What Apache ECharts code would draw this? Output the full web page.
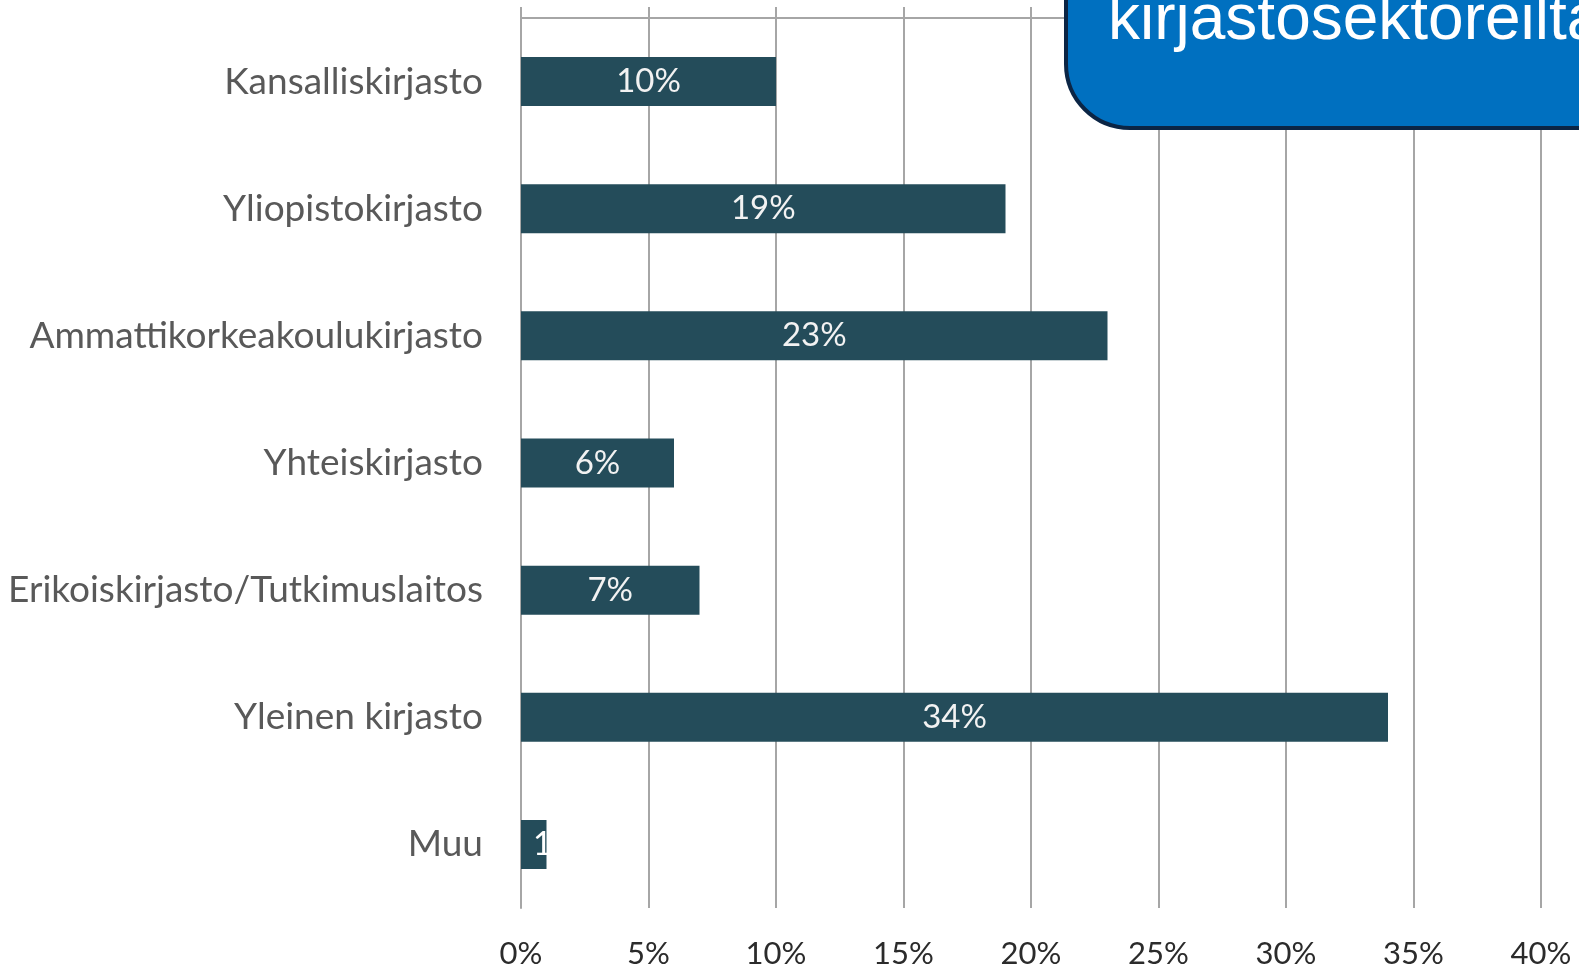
<!DOCTYPE html>
<html>
<head>
<meta charset="utf-8">
<script src="https://cdn.jsdelivr.net/npm/echarts@6/dist/echarts.min.js"></script>
<style>
html, body { margin: 0; padding: 0; background: #ffffff; }
#chart { width: 1579px; height: 970px; }
</style>
</head>
<body>
<div id="chart"></div>
<script>
var categories = ['Kansalliskirjasto', 'Yliopistokirjasto', 'Ammattikorkeakoulukirjasto', 'Yhteiskirjasto',
    'Erikoiskirjasto/Tutkimuslaitos', 'Yleinen kirjasto', 'Muu'];
var shares = [10, 19, 23, 6, 7, 34, 1];
var axisMax = 40;
var axisStep = 5;
var boxTitle = 'kirjastosektoreilta';

var chart = echarts.init(document.getElementById('chart'));

// pieni palkki: label alkaa vasemmalta ja leikkautuu kuten alkuperäisessä
var barData = shares.map(function (v) {
    var item = {value: v};
    if (v < 3) {
        item.label = {position: 'insideLeft', distance: 12, color: '#ffffff'};
    }
    return item;
});

var gridGray = '#a6a6a6';

var option = {
    backgroundColor: '#ffffff',
    animation: false,
    grid: {left: 521, right: 38, top: 18, bottom: 62},
    xAxis: [{
        type: 'value',
        min: 0,
        max: axisMax,
        interval: axisStep,
        axisLine: {show: false},
        axisTick: {show: false},
        axisLabel: {
            formatter: '{value}%',
            color: '#2b2b2b',
            fontFamily: 'Lato',
            fontSize: 31,
            margin: 30
        },
        splitLine: {lineStyle: {color: gridGray, width: 2}}
    }, {
        // yläreunan viiva + gridviivojen pätkät yläpuolella
        type: 'value',
        position: 'top',
        min: 0,
        max: axisMax,
        interval: axisStep,
        axisLine: {show: true, lineStyle: {color: gridGray, width: 2}},
        axisTick: {show: true, length: 11, lineStyle: {color: gridGray, width: 2}},
        axisLabel: {show: false},
        splitLine: {show: false}
    }],
    yAxis: {
        type: 'category',
        data: categories,
        inverse: true,
        axisLine: {lineStyle: {color: gridGray, width: 2}},
        axisTick: {length: 14, lineStyle: {color: gridGray, width: 2}},
        axisLabel: {
            color: '#595959',
            fontFamily: 'Lato',
            fontSize: 37,
            margin: 38
        }
    },
    series: [{
        type: 'bar',
        xAxisIndex: 0,
        data: barData,
        barWidth: 49,
        itemStyle: {color: '#244c5a'},
        label: {
            show: true,
            position: 'inside',
            formatter: '{c}%',
            color: '#f2f2f2',
            fontFamily: 'Lato',
            fontSize: 33
        }
    }],
    graphic: [{
        type: 'rect',
        shape: {x: 1066, y: -70, width: 620, height: 198, r: 64},
        style: {fill: '#0070c0', stroke: '#0b2545', lineWidth: 4},
        z: 100
    }, {
        type: 'text',
        x: 1108,
        y: -11,
        style: {
            text: boxTitle,
            fill: '#ffffff',
            font: '64px "Liberation Sans", Arial, sans-serif'
        },
        z: 101
    }]
};

chart.setOption(option);
</script>
</body>
</html>
